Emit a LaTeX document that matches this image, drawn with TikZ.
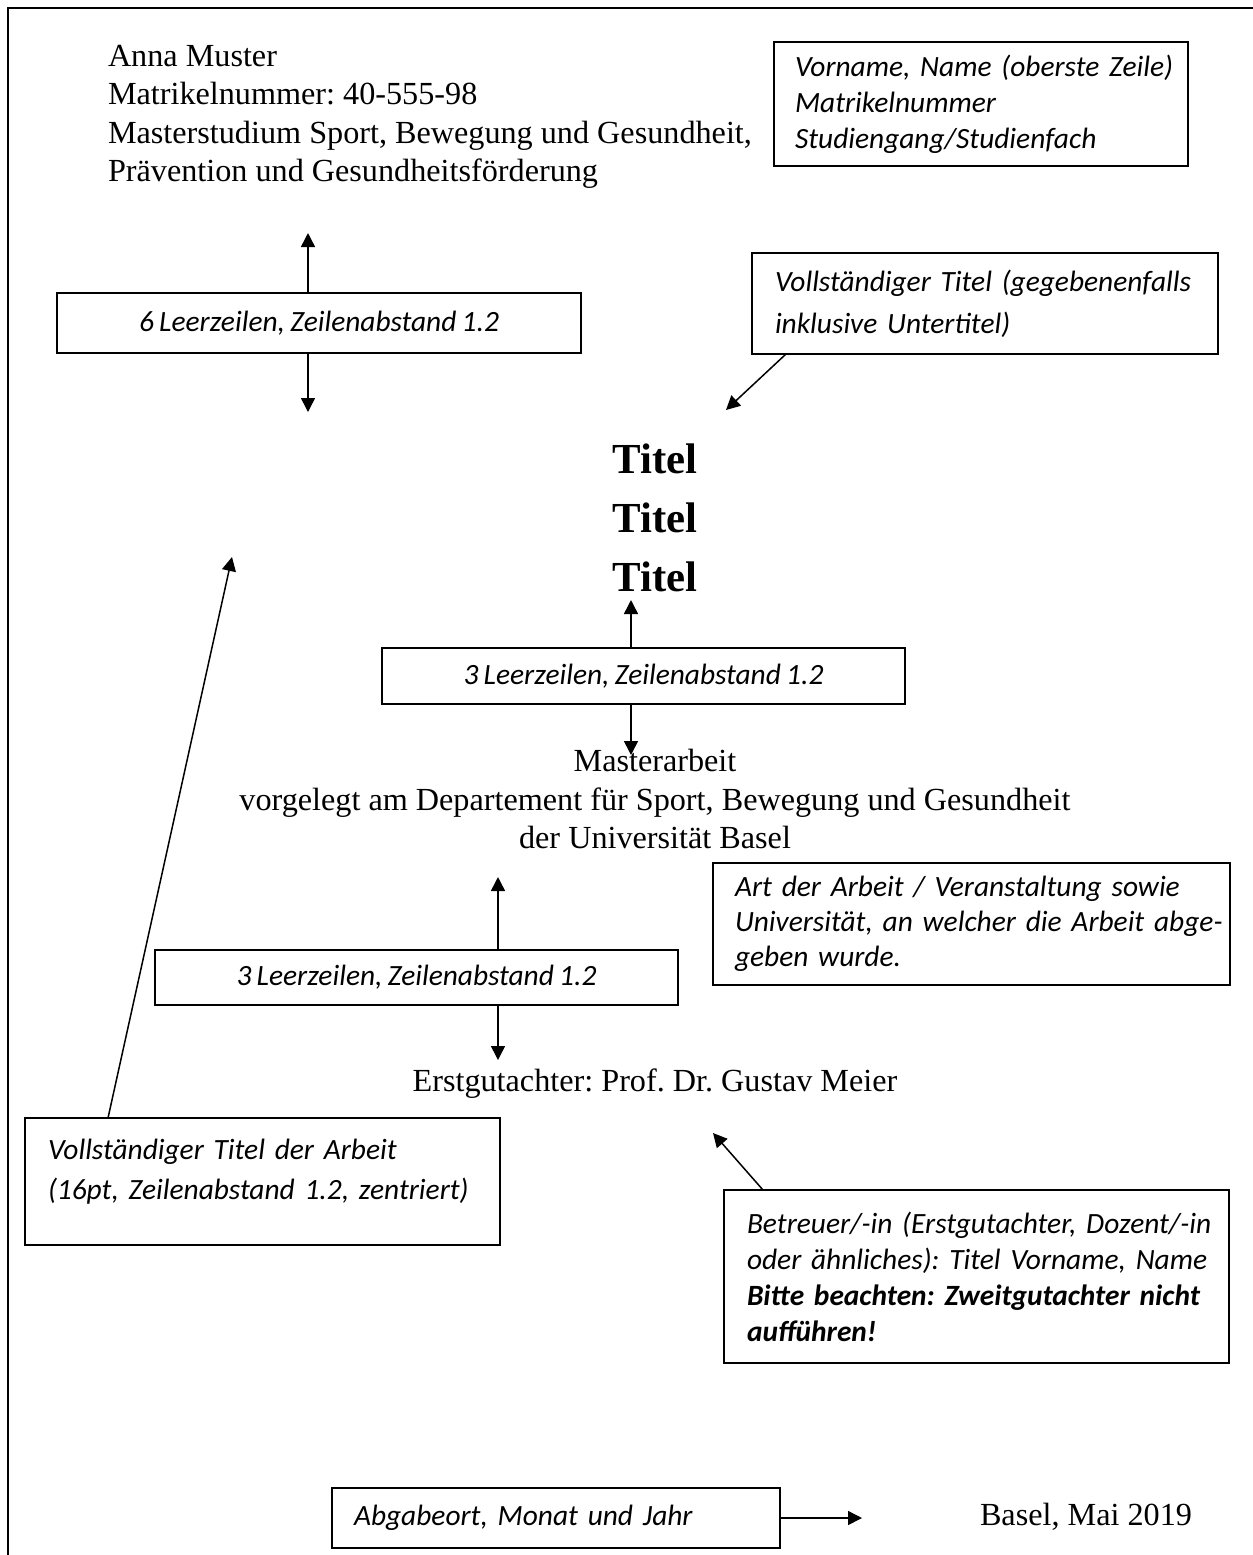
\documentclass[tikz,border=0pt]{standalone}
\usepackage{fontspec}
\setmainfont{Liberation Serif}
\newfontfamily\notefont[WordSpace=0.8]{Carlito}
\usetikzlibrary{arrows.meta,calc}
\frenchspacing
\hbadness=10000
\hfuzz=200pt
\begin{document}
\begin{tikzpicture}[x=0.5pt,y=-0.5pt,
  every node/.style={inner sep=0pt, outer sep=0pt},
  serif/.style={font=\frenchspacing\fontsize{16.1}{19.3}\selectfont},
  titel/.style={font=\fontsize{21.4}{29.5}\selectfont\bfseries, anchor=base},
  notefnt/.style={font=\frenchspacing\notefont\itshape\fontsize{14.7}{#1}\selectfont},
  notebox/.style={draw, line width=0.75pt, align=left, anchor=north west, inner ysep=0pt},
  gapbox/.style={draw, line width=0.75pt, align=center, anchor=north west, notefnt=18pt},
  arr/.style={-{Triangle[length=7pt,width=7pt]}, line width=0.75pt}]
\useasboundingbox (0,0) rectangle (1253,1555);
\draw[line width=1.1pt] (1253,8) -- (8,8) -- (8,1555);

% header text
\node[serif, anchor=base west] (l1) at (108,66) {Anna Muster};
\node[serif, anchor=base west] (l2) at (108,104.5) {Matrikelnummer: 40-555-98};
\node[serif, anchor=base west] (l3) at (108,143) {Masterstudium Sport, Bewegung und Gesundheit,};
\node[serif, anchor=base west] (l4) at (108,181.5) {Prävention und Gesundheitsförderung};

\node[notebox, notefnt=18pt, minimum width=207pt, minimum height=62pt, text width=186pt, inner xsep=10.5pt] (vorname) at (774,42)
  {\mbox{Vorname, Name (oberste Zeile)}\\\mbox{Matrikelnummer}\\\mbox{Studiengang/Studienfach}};

% 6 Leerzeilen
\node[gapbox, minimum width=262pt, minimum height=30pt] (gap6) at (57,293) {6 Leerzeilen, Zeilenabstand 1.2};
\coordinate (g6up) at (308,233);
\coordinate (g6dn) at (308,412);
\draw[arr] (gap6.north -| g6up) -- (g6up);
\draw[arr] (gap6.south -| g6dn) -- (g6dn);

% full title note
\node[notebox, notefnt=21pt, minimum width=233pt, minimum height=50.5pt, text width=210pt, inner xsep=11.5pt] (voll) at (752,253)
  {\mbox{Vollständiger Titel (gegebenenfalls}\\\mbox{inklusive Untertitel)}};
\coordinate (vtip) at (726,410);
\draw[arr] ($(voll.south west)+(34,0)$) -- (vtip);

% title
\node[titel] (t1) at (655,473) {Titel};
\node[titel] (t2) at (655,532) {Titel};
\node[titel] (t3) at (655,591) {Titel};

% 3 Leerzeilen (a)
\node[gapbox, minimum width=261.5pt, minimum height=28pt] (gap3a) at (382,648) {3 Leerzeilen, Zeilenabstand 1.2};
\coordinate (g3aup) at (631,600);
\coordinate (g3adn) at (631,755);
\draw[arr] (gap3a.north -| g3aup) -- (g3aup);
\draw[arr] (gap3a.south -| g3adn) -- (g3adn);

\node[serif, anchor=base] (m1) at (655,771) {Masterarbeit};
\node[serif, anchor=base] (m2) at (655,810) {vorgelegt am Departement für Sport, Bewegung und Gesundheit};
\node[serif, anchor=base] (m3) at (655,848) {der Universität Basel};

% Art der Arbeit
\node[notebox, notefnt=17.5pt, minimum width=258.5pt, minimum height=61pt, text width=236.5pt, inner xsep=11pt] (art) at (713,863)
  {\mbox{Art der Arbeit / Veranstaltung sowie}\\\mbox{Universität, an welcher die Arbeit abge-}\\\mbox{geben wurde.}};

% 3 Leerzeilen (b)
\node[gapbox, minimum width=261.5pt, minimum height=27.5pt] (gap3b) at (155,950) {3 Leerzeilen, Zeilenabstand 1.2};
\coordinate (g3bup) at (498,877);
\coordinate (g3bdn) at (498,1060);
\draw[arr] (gap3b.north -| g3bup) -- (g3bup);
\draw[arr] (gap3b.south -| g3bdn) -- (g3bdn);

\node[serif, anchor=base] (erst) at (655,1091) {Erstgutachter: Prof. Dr. Gustav Meier};

% full title of the thesis note
\node[notebox, notefnt=20pt, minimum width=237.5pt, minimum height=63.5pt, text width=214.5pt, inner xsep=11.5pt, text depth=32pt] (vta) at (25,1118)
  {\mbox{Vollständiger Titel der Arbeit}\\\mbox{(16pt, Zeilenabstand 1.2, zentriert)}};
\coordinate (vtatip) at (232,557);
\draw[arr] ($(vta.north west)+(83,0)$) -- (vtatip);

% Betreuer
\node[notebox, notefnt=18pt, minimum width=252.5pt, minimum height=86.5pt, text width=229.5pt, inner xsep=11.5pt] (betr) at (724,1190)
  {\mbox{Betreuer/-in (Erstgutachter, Dozent/-in}\\\mbox{oder ähnliches): Titel Vorname, Name}\\\mbox{\bfseries Bitte beachten: Zweitgutachter nicht}\\\mbox{\bfseries aufführen!}};
\coordinate (btip) at (713,1133);
\draw[arr] ($(betr.north west)+(39,0)$) -- (btip);

% Abgabe
\node[notebox, notefnt=18pt, minimum width=224pt, minimum height=30pt, text width=202pt, inner xsep=11pt] (abg) at (332,1488)
  {Abgabeort, Monat und Jahr};
\node[serif, anchor=base west] (basel) at (980,1525) {Basel, Mai 2019};
\coordinate (atip) at (862,1518);
\draw[arr] (abg.east) -- (abg.east -| atip);
\end{tikzpicture}
\end{document}
